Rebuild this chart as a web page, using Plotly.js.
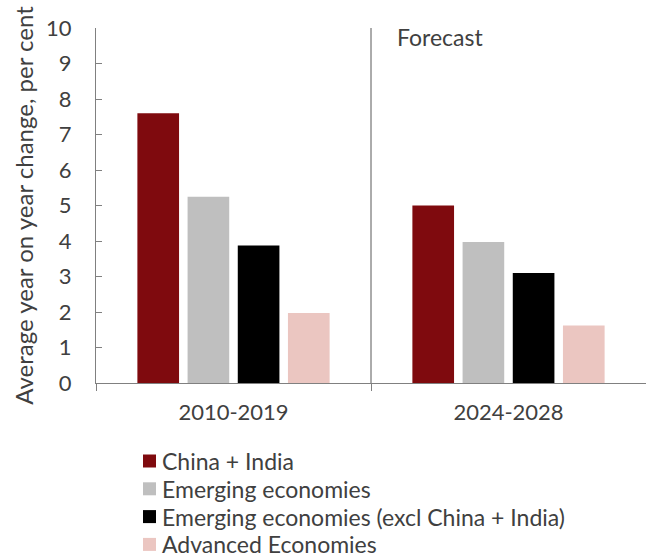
<!DOCTYPE html>
<html>
<head>
<meta charset="utf-8">
<script src="https://cdn.plot.ly/plotly-3.0.1.min.js"></script>
<style>html,body{margin:0;padding:0;background:#fff;}#chart{width:646px;height:556px;}</style>
</head>
<body>
<div id="chart"></div>
<script>
const categories = ["2010-2019", "2024-2028"];
const seriesNames = ["China + India", "Emerging economies", "Emerging economies (excl China + India)", "Advanced Economies"];
const chinaIndia = [7.6, 5.0];
const emerging = [5.25, 3.97];
const emergingExcl = [3.87, 3.1];
const advanced = [1.97, 1.62];
const seriesColors = ["#7F0A0E", "#BFBFBF", "#000000", "#EBC6C1"];
const yTicks = [0,1,2,3,4,5,6,7,8,9,10];

const values = [chinaIndia, emerging, emergingExcl, advanced];
const FONT = "Lato, 'Open Sans', sans-serif";
const FS = 22;
const FT = 23;
const W = 646, H = 556;
const M = {l: 96, r: 0, t: 28, b: 173};
const plotW = W - M.l - M.r, plotH = H - M.t - M.b;
const px2x = p => (p - M.l) / plotW;
const py2y = p => (H - M.b - p) / plotH;

const traces = values.map((v, i) => ({
  type: "bar",
  name: seriesNames[i],
  x: categories,
  y: v,
  marker: {color: seriesColors[i], line: {width: 0}},
  hoverinfo: "skip",
  showlegend: false
}));

// custom legend (layout decoration): swatch + label per series
const legendY = i => 461 + 27.8 * i;
const legendShapes = seriesNames.map((n, i) => ({
  type: "rect", xref: "paper", yref: "paper",
  x0: px2x(143), x1: px2x(156), y0: py2y(legendY(i) + 6.5), y1: py2y(legendY(i) - 6.5),
  fillcolor: seriesColors[i], line: {width: 0}
}));
const legendAnns = seriesNames.map((n, i) => ({
  text: n, xref: "paper", yref: "paper",
  x: px2x(160), y: py2y(legendY(i)), xanchor: "left", yanchor: "middle",
  showarrow: false,
  font: {family: FONT, size: FT, color: "#404040"}
}));

const layout = {
  width: W, height: H,
  margin: {l: M.l, r: M.r, t: M.t, b: M.b, autoexpand: false},
  paper_bgcolor: "#ffffff", plot_bgcolor: "#ffffff",
  font: {family: FONT, size: FS, color: "#404040"},
  barmode: "group",
  bargap: 0.27,
  bargroupgap: 0.17,
  showlegend: false,
  xaxis: {
    type: "category",
    showline: true, linecolor: "#808080", linewidth: 1,
    ticks: "outside", tickson: "boundaries", ticklen: 7, tickcolor: "#808080",
    showgrid: false, zeroline: false,
    ticklabelstandoff: 10,
    tickfont: {family: FONT, size: FS, color: "#404040"}
  },
  yaxis: {
    range: [0, 10],
    tickvals: yTicks,
    ticktext: yTicks.map(String),
    showline: true, linecolor: "#808080", linewidth: 1,
    ticks: "inside", ticklen: 6, tickcolor: "#808080",
    showgrid: false, zeroline: false,
    ticklabelstandoff: 19,
    tickfont: {family: FONT, size: FS, color: "#404040"},
    title: {text: "Average year on year change, per cent", font: {family: FONT, size: 24, color: "#404040"}, standoff: 5}
  },
  shapes: [{
    type: "line", xref: "x", yref: "y",
    x0: 0.5, x1: 0.5, y0: 0, y1: 10,
    line: {color: "#595959", width: 1}
  }].concat(legendShapes),
  annotations: [{
    text: "Forecast", xref: "x", yref: "paper",
    x: 0.5, y: 0.975, xanchor: "left", yanchor: "middle",
    xshift: 24, showarrow: false,
    font: {family: FONT, size: FT, color: "#404040"}
  }].concat(legendAnns)
};

Plotly.newPlot("chart", traces, layout, {displayModeBar: false, staticPlot: true});
</script>
</body>
</html>
